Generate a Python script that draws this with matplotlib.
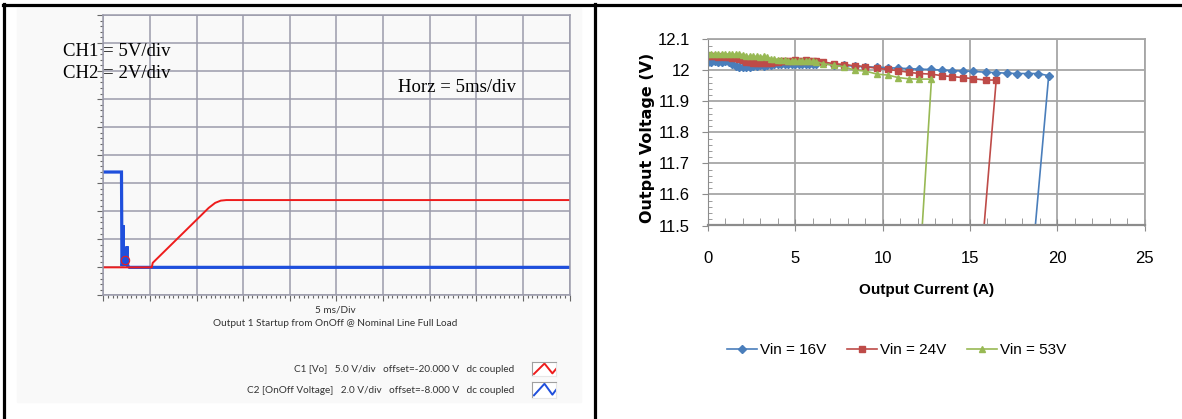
import matplotlib
matplotlib.use('Agg')
import matplotlib.pyplot as plt
from matplotlib import font_manager as fm
from matplotlib.lines import Line2D
from matplotlib.patches import Rectangle
from matplotlib.ticker import MultipleLocator, FuncFormatter

W, H = 1182, 419

# 示波器波形 (ms, V)
ch1_t = [0, 5.2, 5.3, 11.3, 12.0, 12.6, 13.2, 50]
ch1_v = [0, 0, 0.8, 10.6, 11.5, 11.9, 12.0, 12.0]
ch2_t = [0, 1.95, 2.0, 2.05, 2.12, 2.18, 2.3, 2.38, 2.55, 2.62, 2.8, 50]
ch2_v = [6.8, 6.8, 0.1, 0.2, 3.0, 0.3, 0.9, 0.1, 1.5, 0.1, 0, 0]
ch1_scale, ch2_scale = 5.0, 2.0   # V/div

# 负载调整率 (A, V)
i_dense = [0.0, 0.2, 0.4, 0.6, 0.8, 1.0, 1.2, 1.4, 1.6, 1.8, 2.0, 2.2, 2.4, 2.6, 2.8, 3.0,
           3.2, 3.4, 3.6, 3.8, 4.0, 4.2, 4.4, 4.6, 4.8, 5.0, 5.2, 5.4, 5.6, 5.8, 6.0, 6.2]
i_sweep = [6.6, 7.2, 7.8, 8.4, 9.0, 9.7, 10.3, 10.9, 11.5, 12.1, 12.8,
           13.4, 14.0, 14.6, 15.2, 15.9, 16.5, 17.1, 17.7, 18.3, 18.9, 19.5]

v16_dense = [12.027, 12.028, 12.029, 12.028, 12.028, 12.029, 12.027, 12.020, 12.014, 12.012,
             12.011, 12.012, 12.011, 12.013, 12.015, 12.016, 12.015, 12.016, 12.018, 12.020,
             12.020, 12.021, 12.020, 12.021, 12.020, 12.021, 12.020, 12.021, 12.021, 12.020,
             12.021, 12.022]
v16_sweep = [12.023, 12.017, 12.016, 12.014, 12.012, 12.010, 12.009, 12.007, 12.006, 12.004,
             12.003, 12.001, 11.999, 11.998, 11.997, 11.994, 11.993, 11.991, 11.990, 11.990,
             11.990, 11.983]
v24_dense = [12.045, 12.046, 12.045, 12.044, 12.045, 12.044, 12.042, 12.040, 12.039, 12.036,
             12.032, 12.028, 12.026, 12.025, 12.024, 12.024, 12.025, 12.024, 12.025, 12.026,
             12.027, 12.029, 12.030, 12.031, 12.031, 12.032, 12.031, 12.031, 12.032, 12.031,
             12.031, 12.030]
v24_sweep = [12.027, 12.022, 12.019, 12.015, 12.012, 12.007, 12.003, 11.999, 11.994, 11.990,
             11.988, 11.983, 11.980, 11.977, 11.973, 11.969, 11.969]
v53_dense = [12.052, 12.053, 12.052, 12.053, 12.052, 12.053, 12.052, 12.053, 12.052, 12.053,
             12.051, 12.046, 12.045, 12.046, 12.045, 12.044, 12.045, 12.043, 12.038, 12.036,
             12.035, 12.034, 12.032, 12.030, 12.030, 12.029, 12.030, 12.029, 12.030, 12.029,
             12.029, 12.028]
v53_sweep = [12.022, 12.016, 12.012, 12.001, 11.998, 11.988, 11.985, 11.977, 11.973, 11.972,
             11.972]
# 过流保护后的掉电点
drop_16v = (18.58, 11.4)
drop_24v = (15.66, 11.4)
drop_53v = (12.16, 11.4)

names = {f.name for f in fm.fontManager.ttflist}
NARROW = 'Liberation Sans Narrow' if 'Liberation Sans Narrow' in names else 'Liberation Sans'


def box(l, t, r, b):
    return [l / W, 1 - b / H, (r - l) / W, (b - t) / H]


fig = plt.figure(figsize=(W / 100, H / 100), dpi=100)

# 背景与边框
fig.add_artist(Rectangle((16.7 / W, 1 - 401.7 / H), (580.7 - 16.7) / W, (401.7 - 8.3) / H,
                         transform=fig.transFigure, color='#f9f9f9', zorder=-5))
fig.add_artist(Line2D([3 / W, 1], [1 - 5.5 / H] * 2, color='black', lw=2.3))
fig.add_artist(Line2D([3.5 / W] * 2, [0, 1 - 4 / H], color='black', lw=2.3))
fig.add_artist(Line2D([595 / W] * 2, [0, 1 - 4 / H], color='black', lw=2.3))

# ---------------- 左: 示波器 ----------------
ax1 = fig.add_axes(box(103.3, 15, 569.5, 295.4))
ax1.set_facecolor('#f9f9f9')
ax1.set_xlim(0, 50)
ax1.set_ylim(0, 10)
ax1.xaxis.set_major_locator(MultipleLocator(5))
ax1.xaxis.set_minor_locator(MultipleLocator(0.5))
ax1.yaxis.set_major_locator(MultipleLocator(1))
ax1.yaxis.set_minor_locator(MultipleLocator(0.2))
grid_c = '#9c9cac'
ax1.grid(which='major', color=grid_c, lw=1.1)
for s in ax1.spines.values():
    s.set_color(grid_c)
    s.set_linewidth(1.1)
ax1.tick_params(which='both', direction='out', colors='#666666', width=0.8,
                labelbottom=False, labelleft=False)
ax1.tick_params(which='major', length=4)
ax1.tick_params(which='minor', length=2.2)

ch2_div = [1 + v / ch2_scale for v in ch2_v]
ch1_div = [1 + v / ch1_scale for v in ch1_v]
ax1.plot(ch2_t, ch2_div, color='#1f4fdc', lw=2.3, solid_joinstyle='miter')
ax1.plot(ch1_t, ch1_div, color='#ee1c1c', lw=1.4)
ax1.plot([2.35], [1 + 1.4 / ch1_scale], marker='o', ms=6, mfc='none', mec='#ee1c1c', mew=0.8)

fig.text(63 / W, 1 - 52 / H, 'CH1 = 5V/div', family='Liberation Serif', size=13.5, va='center')
fig.text(63 / W, 1 - 74 / H, 'CH2 = 2V/div', family='Liberation Serif', size=13.5, va='center')
fig.text(398 / W, 1 - 87.5 / H, 'Horz = 5ms/div', family='Liberation Serif', size=13.5, va='center')

small = dict(family='Lato', size=7.2, color='#333333', va='center')
fig.text(335.5 / W, 1 - 310 / H, '5 ms/Div', ha='center', **small)
fig.text(335.5 / W, 1 - 324 / H, 'Output 1 Startup from OnOff @ Nominal Line Full Load',
         ha='center', **small)
fig.text(514 / W, 1 - 369.5 / H, 'C1 [Vo]   5.0 V/div   offset=-20.000 V   dc coupled',
         ha='right', **small)
fig.text(514 / W, 1 - 390 / H, 'C2 [OnOff Voltage]   2.0 V/div   offset=-8.000 V   dc coupled',
         ha='right', **small)

for (t, b), c in [((361.5, 376), '#ee1c1c'), ((381.5, 397.6), '#1f4fdc')]:
    ic = fig.add_axes(box(532, t, 556, b))
    ic.set_facecolor('white')
    ic.set_xlim(0, 1)
    ic.set_ylim(0, 1)
    ic.set_xticks([])
    ic.set_yticks([])
    ic.spines['top'].set_color('#a0a0a0')
    ic.spines['left'].set_color('#a0a0a0')
    ic.spines['bottom'].set_color('#e6e6e6')
    ic.spines['right'].set_color('#e6e6e6')
    ic.plot([0.08, 0.52, 0.85, 1.0], [0.14, 0.86, 0.18, 0.48], color=c, lw=1.4)

# ---------------- 右: 负载调整率 ----------------
ax2 = fig.add_axes(box(707.6, 39.4, 1144.9, 225.5))
ax2.set_xlim(0, 25)
ax2.set_ylim(11.5, 12.1)
ax2.xaxis.set_major_locator(MultipleLocator(5))
ax2.xaxis.set_minor_locator(MultipleLocator(1))
ax2.yaxis.set_major_locator(MultipleLocator(0.1))
ax2.yaxis.set_minor_locator(MultipleLocator(0.02))
ax2.yaxis.set_major_formatter(FuncFormatter(lambda v, p: f'{round(v, 1):g}'))
ax2.grid(which='major', color='#a6a6a6', lw=1.3)
for k in ['top', 'right']:
    ax2.spines[k].set_color('#a6a6a6')
    ax2.spines[k].set_linewidth(1.3)
ax2.spines['left'].set_color('#8c8c8c')
ax2.spines['bottom'].set_color('#8c8c8c')
ax2.spines['bottom'].set_linewidth(1.6)
ax2.tick_params(which='both', colors='#8c8c8c', labelcolor='black', labelsize=12)
ax2.tick_params(axis='y', which='major', direction='out', length=4, pad=8.5)
ax2.tick_params(axis='y', which='minor', direction='in', length=3)
ax2.tick_params(axis='x', which='major', direction='inout', length=9, pad=14)
ax2.tick_params(axis='x', which='minor', direction='in', length=5)
for lab in ax2.get_xticklabels() + ax2.get_yticklabels():
    lab.set_family(NARROW)

i16 = i_dense + i_sweep + [drop_16v[0]]
v16 = v16_dense + v16_sweep + [drop_16v[1]]
i24 = i_dense + i_sweep[:17] + [drop_24v[0]]
v24 = v24_dense + v24_sweep + [drop_24v[1]]
i53 = i_dense + i_sweep[:11] + [drop_53v[0]]
v53 = v53_dense + v53_sweep + [drop_53v[1]]

ax2.plot(i16, v16, color='#4a7ebb', lw=1.2, marker='D', ms=3.6, label='Vin = 16V')
ax2.plot(i24, v24, color='#be4b48', lw=1.2, marker='s', ms=3.8, label='Vin = 24V')
ax2.plot(i53, v53, color='#98b954', lw=1.2, marker='^', ms=4.6, label='Vin = 53V')

ax2.set_xlabel('Output Current (A)', family=NARROW, weight='bold', size=11)
ax2.set_ylabel('Output Voltage (V)', family='DejaVu Sans', weight='bold', size=11.5)
ax2.xaxis.label.set_va('center')
ax2.yaxis.label.set_va('center')
ax2.xaxis.set_label_coords(0.5008, -0.347)
ax2.yaxis.set_label_coords(-0.137, 0.47)

ax2.legend(loc='center', bbox_to_anchor=(0.432, -0.669), ncol=3, frameon=False,
           prop={'family': NARROW, 'size': 11}, handlelength=1.96, handletextpad=0.2,
           columnspacing=1.37)

fig.savefig('out.png', dpi=100)
